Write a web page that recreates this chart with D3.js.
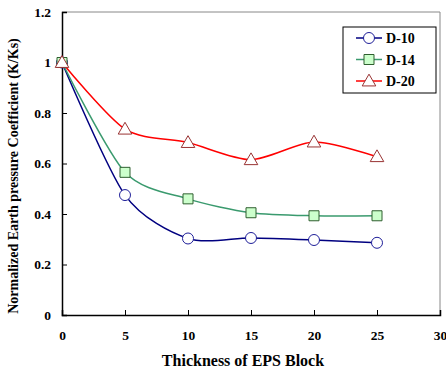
<!DOCTYPE html>
<html>
<head>
<meta charset="utf-8">
<script src="https://cdn.jsdelivr.net/npm/d3@7"></script>
<style>
  body { margin: 0; background: #fff; }
  text { font-family: "Liberation Serif", "Times New Roman", serif; font-weight: bold; }
</style>
</head>
<body>
<div id="chart"></div>
<script>
// Data
var thickness = [0, 5, 10, 15, 20, 25];
var d10 = [1, 0.475, 0.303, 0.305, 0.297, 0.286];
var d14 = [1, 0.565, 0.460, 0.405, 0.393, 0.393];
var d20 = [1, 0.736, 0.683, 0.615, 0.685, 0.627];
var seriesNames = ["D-10", "D-14", "D-20"];
var xTicks = [0, 5, 10, 15, 20, 25, 30];
var yTicks = [0, 0.2, 0.4, 0.6, 0.8, 1, 1.2];

var svgWidth = 446;
var svgHeight = 372;

var margin = { top: 12, right: 6, bottom: 57, left: 62 };
var width = svgWidth - margin.left - margin.right;
var height = svgHeight - margin.top - margin.bottom;

var svg = d3.select("#chart")
  .append("svg")
  .attr("width", svgWidth)
  .attr("height", svgHeight);

var chartGroup = svg.append("g")
  .attr("transform", `translate(${margin.left}, ${margin.top})`);

var xScale = d3.scaleLinear().domain([0, 30]).range([0, width]);
var yScale = d3.scaleLinear().domain([0, 1.2]).range([height, 0]);

// top and right frame (gray)
chartGroup.append("path")
  .attr("d", `M0,0H${width}V${height}`)
  .attr("fill", "none")
  .attr("stroke", "#888")
  .attr("stroke-width", 1);

// axes with inward ticks
var bottomAxis = d3.axisBottom(xScale).tickValues(xTicks).tickSize(-5).tickPadding(15).tickFormat(d3.format("d"));
var leftAxis = d3.axisLeft(yScale).tickValues(yTicks).tickSize(-5).tickPadding(10).tickFormat(d => d);

var xAxis = chartGroup.append("g")
  .attr("transform", `translate(0, ${height})`)
  .call(bottomAxis);
var yAxis = chartGroup.append("g").call(leftAxis);

[xAxis, yAxis].forEach(function(ax) {
  ax.select(".domain").attr("stroke", "#000").attr("stroke-width", 1.5);
  ax.selectAll(".tick line").attr("stroke", "#000");
  ax.selectAll(".tick text")
    .attr("font-family", "Liberation Serif, serif")
    .attr("font-weight", "bold")
    .attr("font-size", "13.5px")
    .attr("fill", "#000");
});
yAxis.selectAll(".tick text").attr("dx", "-1");

// axis titles
svg.append("text")
  .attr("x", 243)
  .attr("y", 366)
  .attr("text-anchor", "middle")
  .attr("font-size", "16px")
  .text("Thickness of EPS Block");

svg.append("text")
  .attr("transform", "translate(18, 176) rotate(-90)")
  .attr("text-anchor", "middle")
  .attr("font-size", "14px")
  .text("Normalized Earth pressure Coefficient (K/Ks)");

var styles = [
  { values: d10, line: "#000080", stroke: "#1f1f99", fill: "#fff", symbol: d3.symbolCircle, size: 95 },
  { values: d14, line: "#3a9a6e", stroke: "#2f5f2f", fill: "#ccffcc", symbol: d3.symbolSquare, size: 100 },
  { values: d20, line: "#ff0000", stroke: "#993333", fill: "#fff", symbol: d3.symbolTriangle, size: 80 }
];

var line = d3.line()
  .x(d => xScale(d[0]))
  .y(d => yScale(d[1]))
  .curve(d3.curveCardinal.tension(0.2));

styles.forEach(function(s) {
  var pts = thickness.map((t, i) => [t, s.values[i]]);
  chartGroup.append("path")
    .datum(pts)
    .attr("fill", "none")
    .attr("stroke", s.line)
    .attr("stroke-width", 1.5)
    .attr("d", line);
});

styles.forEach(function(s) {
  var pts = thickness.map((t, i) => [t, s.values[i]]);
  chartGroup.selectAll(null)
    .data(pts)
    .enter()
    .append("path")
    .attr("transform", d => `translate(${xScale(d[0])}, ${yScale(d[1]) + (s.symbol === d3.symbolTriangle ? 1 : 0)})`)
    .attr("d", d3.symbol().type(s.symbol).size(s.size))
    .attr("fill", s.fill)
    .attr("stroke", s.stroke)
    .attr("stroke-width", 1);
});

// legend
var legend = svg.append("g").attr("transform", "translate(343, 27)");
legend.append("rect")
  .attr("width", 93)
  .attr("height", 66)
  .attr("fill", "#fff")
  .attr("stroke", "#000")
  .attr("stroke-width", 1);

styles.forEach(function(s, i) {
  var y = 11 + i * 21.5;
  legend.append("line")
    .attr("x1", 13).attr("x2", 39)
    .attr("y1", y).attr("y2", y)
    .attr("stroke", s.line)
    .attr("stroke-width", 1.5);
  legend.append("path")
    .attr("transform", `translate(26, ${y + (s.symbol === d3.symbolTriangle ? 1 : 0)})`)
    .attr("d", d3.symbol().type(s.symbol).size(s.size))
    .attr("fill", s.fill)
    .attr("stroke", s.stroke);
  legend.append("text")
    .attr("x", 43)
    .attr("y", y + 5)
    .attr("font-size", "14px")
    .text(seriesNames[i]);
});
</script>
</body>
</html>
